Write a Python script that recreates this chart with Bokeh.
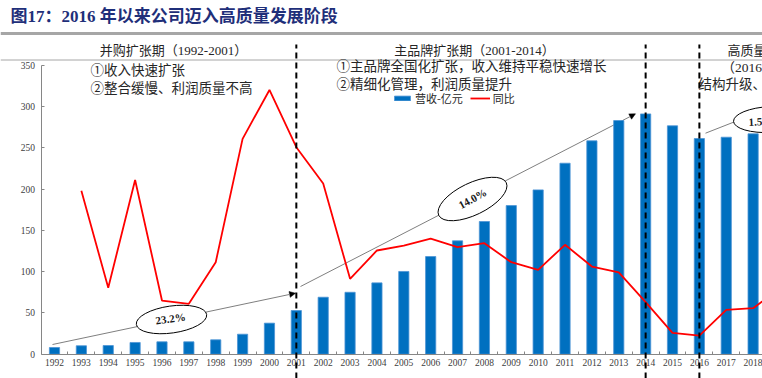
from bokeh.plotting import figure
from bokeh.models import (Range1d, FixedTicker, LinearAxis, Label, Span, Arrow,
                          NormalHead, Legend, LegendItem)
from bokeh.embed import file_html
from bokeh.resources import INLINE

# ---------------- data ----------------
years = list(range(1992, 2019))
revenue = [8.1, 10.2, 10.5, 14.2, 15.0, 15.0, 17.4, 24.2, 37.6, 52.9, 69.0, 75.0,
           86.4, 100.2, 118.3, 137.3, 160.7, 180.0, 199.0, 231.3, 258.4, 283.0,
           291.0, 276.6, 261.2, 262.8, 266.9]
yoy_years = list(range(1993, 2020))
# 同比 line, read in left-axis units (its own axis is outside the crop)
yoy = [198, 80.4, 211, 65, 61, 111.4, 260.8, 320, 250.7, 206.7, 91.3, 125.6,
       131.6, 140, 129.6, 134.4, 111.4, 102.2, 132.5, 106.2, 99, 63, 25.9, 22.6,
       53.8, 55.7, 80]
y_ticks = [0, 50, 100, 150, 200, 250, 300, 350]
phase_breaks = [2001, 2014, 2016]
cagr_labels = ["23.2%", "14.0%", "1.5"]

title_text = "图17：2016 年以来公司迈入高质量发展阶段"
phase_titles = ["并购扩张期（1992-2001）", "主品牌扩张期（2001-2014）", "高质量"]
notes1 = ["①收入快速扩张", "②整合缓慢、利润质量不高"]
notes2 = ["①主品牌全国化扩张，收入维持平稳快速增长", "②精细化管理，利润质量提升"]
notes3 = ["（2016-", "结构升级、"]

# ---------------- geometry helpers (page pixel -> data) ----------------
W, H = 762, 378
def X(px):
    return 1992 + (px - 54) / 26.87
def Y(py):
    return (353.7 - py) / 0.8257

SERIF_CJK = "'Liberation Serif', 'Noto Sans CJK SC'"
CJK = "'Noto Sans CJK SC'"

p = figure(width=W, height=H, x_range=Range1d(X(0), X(762)),
           y_range=Range1d(Y(378), Y(0)), output_backend="svg",
           toolbar_location=None, x_axis_type=None, y_axis_type=None,
           min_border=0)
p.outline_line_color = None
p.grid.visible = False
p.background_fill_color = "white"

# axes at fixed locations
yax = LinearAxis(fixed_location=1991.5, bounds=(0, 350),
                 ticker=FixedTicker(ticks=y_ticks),
                 major_tick_in=3, major_tick_out=0, minor_tick_in=0, minor_tick_out=0,
                 axis_line_color="#868686", major_tick_line_color="#868686",
                 major_label_text_font="Liberation Serif",
                 major_label_text_font_size="9.5px", major_label_standoff=6,
                 major_label_text_color="#404040")
p.add_layout(yax, "left")

xax = LinearAxis(fixed_location=0, bounds=(1991.5, 2019.5),
                 ticker=FixedTicker(ticks=years, minor_ticks=[y + 0.5 for y in years]),
                 major_tick_in=0, major_tick_out=0, minor_tick_in=3, minor_tick_out=0,
                 axis_line_color="#868686", major_tick_line_color=None,
                 minor_tick_line_color="#868686",
                 major_label_text_font="Liberation Serif",
                 major_label_text_font_size="9.5px", major_label_standoff=5,
                 major_label_text_color="#404040")
p.add_layout(xax, "below")

# header rules
p.add_layout(Span(location=Y(33), dimension="width", line_color="#A6A6A6", line_width=3))
p.add_layout(Span(location=Y(59.5), dimension="width", line_color="#A6A6A6", line_width=1))

# trend arrows (under glyphs)
head = dict(size=6, fill_color="black", line_color="black", line_width=0.5)
p.add_layout(Arrow(end=NormalHead(**head), x_start=X(52), y_start=Y(344),
                   x_end=X(295), y_end=Y(292.7), line_color="#7F7F7F",
                   line_width=1, level="underlay"))
p.add_layout(Arrow(end=NormalHead(**head), x_start=X(300), y_start=Y(286),
                   x_end=X(635), y_end=Y(113.3), line_color="#7F7F7F",
                   line_width=1, level="underlay"))
p.add_layout(Arrow(end=None, x_start=X(705), y_start=Y(132.7),
                   x_end=X(745), y_end=Y(117), line_color="#7F7F7F",
                   line_width=1, level="underlay"))

bars = p.vbar(x=years, top=revenue, bottom=0, width=0.38, fill_color="#0070C0",
              line_color="#4D94D6", line_width=0.8)
red = p.line(yoy_years, yoy, line_color="#FF0000", line_width=1.8)

# ellipses with CAGR labels
p.ellipse(x=[X(171), X(472), X(770)], y=[Y(319), Y(198.5), Y(119)],
          width=[71, 75, 74], height=[27, 32, 26], angle=[0.14, 0.45, 0.05],
          width_units="screen", height_units="screen",
          fill_color="white", line_color="black", line_width=1)
for (px, py, ang, align), txt in zip([(170, 318, 0.14, "center"),
                                       (472, 198, 0.5, "center"),
                                       (748, 122, 0.05, "left")], cagr_labels):
    p.add_layout(Label(x=X(px), y=Y(py), text=txt, angle=ang, text_align=align,
                       text_baseline="middle", text_font="Liberation Serif",
                       text_font_style="bold", text_font_size="11px",
                       text_color="#1a1a1a"))

# phase separators
p.segment(x0=phase_breaks, y0=[Y(378)] * 3, x1=phase_breaks, y1=[Y(44)] * 3,
          line_color="black", line_width=2, line_dash="6 4", level="overlay")

# title
p.add_layout(Label(x=X(10), y=Y(16), text=title_text, text_align="left",
                   text_baseline="middle", text_font=SERIF_CJK,
                   text_font_style="bold", text_font_size="17px",
                   text_color="#1F2F7A"))

# phase titles
for (px, align), txt in zip([(173, "center"), (474, "center"), (727, "left")], phase_titles):
    p.add_layout(Label(x=X(px), y=Y(50), text=txt, text_align=align,
                       text_baseline="middle", text_font=SERIF_CJK,
                       text_font_size="13px", text_color="#262626"))

for (px, py), txt in zip([(90, 68), (90, 86)], notes1):
    p.add_layout(Label(x=X(px), y=Y(py), text=txt, text_align="left",
                       text_baseline="middle", text_font=CJK,
                       text_font_size="13.5px", text_color="#262626"))
for (px, py), txt in zip([(336, 64), (336, 82)], notes2):
    p.add_layout(Label(x=X(px), y=Y(py), text=txt, text_align="left",
                       text_baseline="middle", text_font=CJK,
                       text_font_size="13.5px", text_color="#262626"))
for (px, py), txt in zip([(721, 67), (698, 84)], notes3):
    p.add_layout(Label(x=X(px), y=Y(py), text=txt, text_align="left",
                       text_baseline="middle", text_font=SERIF_CJK,
                       text_font_size="13.5px", text_color="#262626"))

# legend
legend = Legend(items=[LegendItem(label="营收-亿元", renderers=[bars]),
                       LegendItem(label="同比", renderers=[red])],
                location=(392, 272), orientation="horizontal",
                glyph_width=20, glyph_height=6, label_height=12,
                label_standoff=3, spacing=7, padding=0, margin=0,
                border_line_color=None, background_fill_alpha=0,
                label_text_font=CJK, label_text_font_size="11px",
                label_text_color="#262626")
p.add_layout(legend)

open("out.html", "w").write(file_html(p, INLINE))
